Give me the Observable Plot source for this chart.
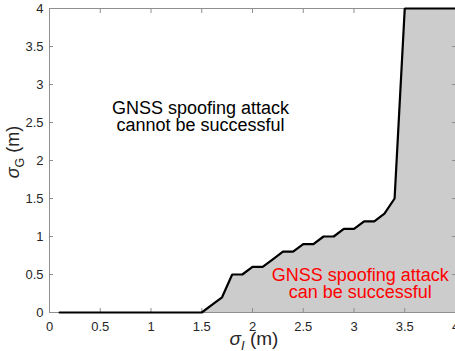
<!DOCTYPE html>
<html><head><meta charset="utf-8">
<script src="https://cdn.jsdelivr.net/npm/d3@7"></script>
<script src="https://cdn.jsdelivr.net/npm/@observablehq/plot@0.6"></script>
<style>
html,body{margin:0;padding:0;background:#fff;overflow:hidden;}
#chart svg{max-width:none;}
</style></head><body><div id="chart"></div>
<script>
// sigma_I (m) values along the boundary
const sigmaI = [0.1,0.2,0.3,0.4,0.5,0.6,0.7,0.8,0.9,1.0,
                1.1,1.2,1.3,1.4,1.5,1.6,1.7,1.8,1.9,2.0,
                2.1,2.2,2.3,2.4,2.5,2.6,2.7,2.8,2.9,3.0,
                3.1,3.2,3.3,3.4,3.5,3.6,3.7,3.8,3.9,4.0];
// sigma_G (m) boundary values
const sigmaG = [0,0,0,0,0,0,0,0,0,0,
                0,0,0,0,0,0.1,0.2,0.5,0.5,0.6,
                0.6,0.7,0.8,0.8,0.9,0.9,1.0,1.0,1.1,1.1,
                1.2,1.2,1.3,1.5,4,4,4,4,4,4];
const xTicks = [0,0.5,1,1.5,2,2.5,3,3.5,4];
const yTicks = [0,0.5,1,1.5,2,2.5,3,3.5,4];
const annotations = [
  {x:1.488, y:2.567, text:"GNSS spoofing attack\ncannot be successful", color:"#000000"},
  {x:3.061, y:0.37, text:"GNSS spoofing attack\ncan be successful", color:"#ff0000"}
];

const rows = sigmaI.map((x,i)=>({x, y:sigmaG[i]}));
const axisColor = "#8f8f8f";
const fmt = d => String(d);
const FONT = "'Liberation Sans', Arial, sans-serif";

const chart = Plot.plot({
  width: 455, height: 351,
  marginLeft: 49, marginRight: 0, marginTop: 8, marginBottom: 39,
  x: {domain:[0,4]},
  y: {domain:[0,4]},
  style: {fontFamily:FONT, fontSize:"13px", color:"#262626", background:"#fff", overflow:"visible"},
  marks: [
    Plot.areaY(rows, {x:"x", y:"y", fill:"#cccccc"}),
    Plot.frame({stroke: axisColor}),
    Plot.axisX(xTicks, {anchor:"bottom", tickSize:-4, tickPadding:13, tickFormat:fmt, stroke:axisColor, fill:"#262626", label:null}),
    Plot.axisX(xTicks, {anchor:"top", tickSize:-4, tickFormat:()=>"", stroke:axisColor, label:null}),
    Plot.axisY(yTicks, {anchor:"left", tickSize:-4, tickPadding:10, tickFormat:fmt, stroke:axisColor, fill:"#262626", label:null}),
    Plot.axisY(yTicks, {anchor:"right", tickSize:-4, tickFormat:()=>"", stroke:axisColor, label:null}),
    Plot.line(rows, {x:"x", y:"y", stroke:"#000", strokeWidth:2.2, strokeLinejoin:"miter"}),
    Plot.text(annotations, {x:"x", y:"y", text:"text", fill:"color", fontSize:18, lineHeight:0.93, textAnchor:"middle", lineAnchor:"middle"})
  ]
});

const svg = d3.select(chart);
// x axis label: sigma_I (m)
const xl = svg.append("text")
  .attr("x", 254).attr("y", 345).attr("text-anchor", "middle")
  .attr("font-size", 19).attr("fill", "#262626")
  .attr("font-family", FONT);
xl.append("tspan").attr("font-style","italic").text("σ");
xl.append("tspan").attr("font-style","italic").attr("font-size", 13).attr("dy", 5).text("I");
xl.append("tspan").attr("dy", -5).text(" (m)");
// y axis label: sigma_G (m)
const yl = svg.append("text")
  .attr("transform", "translate(19,152) rotate(-90)").attr("text-anchor", "middle")
  .attr("font-size", 18).attr("fill", "#262626")
  .attr("font-family", FONT);
yl.append("tspan").attr("font-style","italic").text("σ");
yl.append("tspan").attr("font-size", 12.5).attr("dy", 5).text("G");
yl.append("tspan").attr("dy", -5).text(" (m)");

document.getElementById("chart").appendChild(chart);
</script>
</body></html>
